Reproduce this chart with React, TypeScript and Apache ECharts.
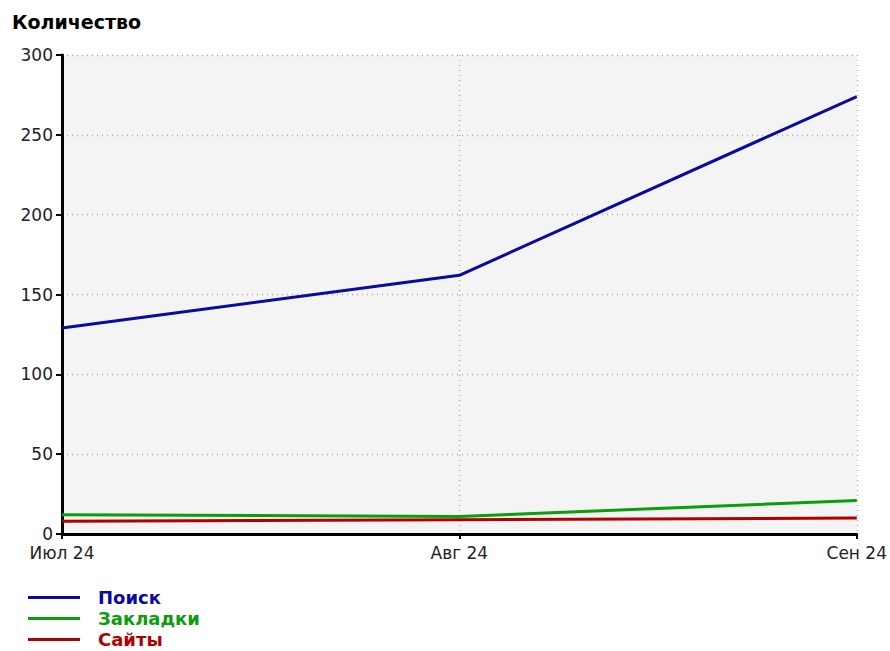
import React, { useEffect, useRef } from "react";
import * as echarts from "echarts";

const categories = ["Июл 24", "Авг 24", "Сен 24"];
const searchValues = [129, 162, 274];
const bookmarkValues = [12, 11, 21];
const siteValues = [8, 9, 10];
const seriesNames = ["Поиск", "Закладки", "Сайты"];
const seriesColors = ["#0a0aa0", "#0a9e0a", "#b00000"];

export default function App() {
  const ref = useRef<HTMLDivElement>(null);
  useEffect(() => {
    if (!ref.current) return;
    const chart = echarts.init(ref.current, null, { renderer: "svg" });
    const font = "'DejaVu Sans', 'Liberation Sans', sans-serif";
    const dataSets = [searchValues, bookmarkValues, siteValues];
    chart.setOption({
      animation: false,
      backgroundColor: "#ffffff",
      title: {
        text: "Количество",
        left: 12,
        top: 12,
        padding: 0,
        textStyle: { fontFamily: font, fontWeight: "bold", fontSize: 19, color: "#000" },
      },
      grid: { left: 62, right: 33, top: 55, bottom: 117, show: true, backgroundColor: "#f4f4f4", borderWidth: 0 },
      legend: {
        orient: "vertical",
        left: 28,
        top: 588,
        padding: 0,
        itemWidth: 52,
        itemHeight: 3,
        itemGap: 2,
        icon: "rect",
        data: seriesNames.map((n, i) => ({
          name: n,
          textStyle: { color: seriesColors[i], fontFamily: font, fontWeight: "bold", fontSize: 18, lineHeight: 19, padding: [0, 0, 0, 13] },
        })),
      },
      xAxis: {
        type: "category",
        data: categories,
        boundaryGap: false,
        axisLine: { lineStyle: { color: "#000", width: 3 } },
        axisTick: { show: true, length: 5, lineStyle: { color: "#000", width: 2 } },
        axisLabel: { color: "#222", fontFamily: font, fontSize: 17, margin: 10 },
        splitLine: { show: true, lineStyle: { color: "#a8a8a8", type: [1, 4], width: 1.3 } },
      },
      yAxis: {
        type: "value",
        min: 0,
        max: 300,
        interval: 50,
        axisLine: { show: true, lineStyle: { color: "#000", width: 3 } },
        axisTick: { show: true, length: 6, lineStyle: { color: "#000", width: 2 } },
        axisLabel: { color: "#222", fontFamily: font, fontSize: 17, margin: 9 },
        splitLine: { show: true, lineStyle: { color: "#a8a8a8", type: [1, 4], width: 1.3 } },
      },
      series: seriesNames.map((n, i) => ({
        name: n,
        type: "line",
        data: dataSets[i],
        symbol: "none",
        lineStyle: { color: seriesColors[i], width: 3 },
        itemStyle: { color: seriesColors[i] },
        z: 3 - i,
      })),
    });
    return () => chart.dispose();
  }, []);
  return <div ref={ref} style={{ position: "fixed", left: 0, top: 0, width: 890, height: 651 }} />;
}
